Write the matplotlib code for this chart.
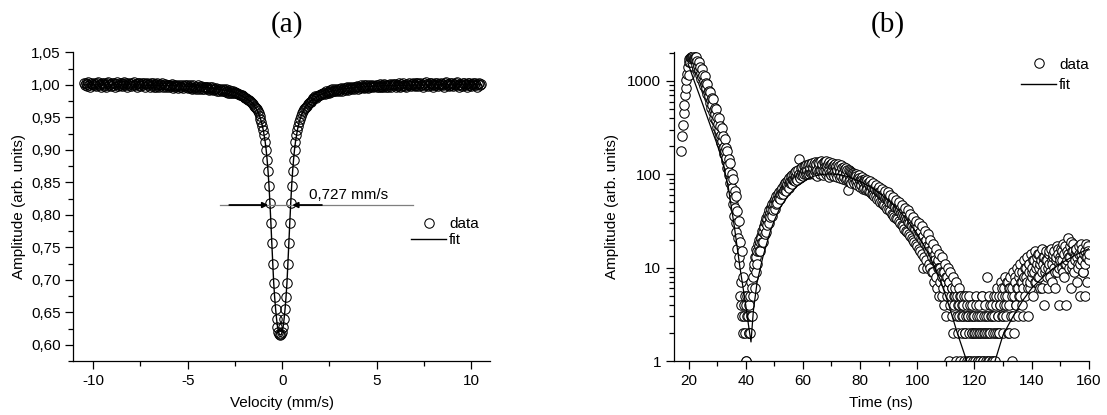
import numpy as np
import matplotlib
matplotlib.use("Agg")
import matplotlib.pyplot as plt
from matplotlib.lines import Line2D
from matplotlib.ticker import MultipleLocator, FuncFormatter, FixedLocator, LogLocator, NullFormatter

# ---------------- data: panel (a) Mossbauer spectrum ----------------
# amplitude in units of 0.001, channels evenly spaced from -10.5 to 10.5 mm/s
amp_milli = [
    1002,999,1003,998,1001,1004,1000,997,1002,1001,
    999,1003,1000,998,1002,1004,999,1001,997,1003,
    1001,998,1003,1000,997,1002,1004,999,1001,998,
    1003,1000,1002,997,1001,1004,998,1000,1003,999,
    1002,998,1001,1004,999,1002,997,1000,1003,1001,
    998,1002,1000,1004,999,1001,997,1003,1000,1002,
    998,1001,1003,999,1002,997,1001,1003,999,
    1001,997,1002,999,1002,997,1000,1001,997,1002,999,996,1001,999,1002,997,999,1001,997,1000,
    1000,996,999,998,1001,995,998,1000,996,999,998,995,1000,997,996,1000,995,998,1000,996,
    999,995,997,999,995,997,994,999,995,997,994,996,999,994,996,998,994,996,993,997,
    996,997,993,995,992,996,994,997,992,994,
    994,995,991,993,990,994,992,990,994,991,
    992,989,993,990,988,992,988,990,987,990,
    988,989,987,988,986,986,
    985,984,984,983,
    982,981,980,979,
    978,977,976,975,973,972,
    970,968,966,964,962,959,956,952,948,943,937,930,922,912,900,885,867,845,818,788,
    756,725,695,673,655,640,628,620,616,
    615,
    616,620,628,640,655,673,695,725,756,788,818,845,867,885,900,912,922,930,937,943,
    948,952,956,959,962,964,966,968,970,
    972,974,974,977,976,979,
    979,982,980,983,
    983,985,984,986,
    986,988,987,986,990,988,
    989,991,988,992,989,993,990,991,993,990,
    992,994,990,993,995,991,993,995,992,995,
    994,996,992,995,997,993,995,997,993,996,
    996,998,994,997,995,999,996,997,999,995,997,1000,996,995,999,997,998,1000,996,998,
    998,1000,996,999,997,1001,998,996,1000,997,1001,999,997,1000,996,999,1001,997,999,1001,
    999,1001,997,1000,998,1002,999,997,1001,998,1002,1000,998,997,1001,999,1002,1000,998,1001,
    1002,999,998,1003,1000,1002,998,1001,1003,1000,
    999,997,1002,1000,1004,1001,998,1000,1002,1003,
    999,1001,997,1000,1003,999,1002,998,1001,1000,
    1003,1001,999,997,1002,1004,1000,1001,998,1000,
    1002,999,1003,998,1001,1000,1002,1004,999,997,
    1001,1000,998,1003,1002,999,1001,997,1000,1003,
    1002,999,998,1001,1003,1000,1002,999,997,1001,
    1002,1000,1001,
]
vel_start, vel_stop = -10.5, 10.5

fit_vel = [-10.5, -8.1, -6.1, -5.1, -4.1, -3.1, -2.6, -2.1, -1.9, -1.7, -1.5, -1.3, -1.2, -1.1,
           -1.0, -0.9, -0.85, -0.8, -0.75, -0.7, -0.65, -0.6, -0.55, -0.5, -0.45, -0.4, -0.35,
           -0.3, -0.25, -0.2, -0.15, -0.1, -0.05, 0.0, 0.05, 0.1, 0.15, 0.2, 0.25, 0.3, 0.35,
           0.4, 0.45, 0.5, 0.55, 0.6, 0.65, 0.7, 0.8, 0.9, 1.0, 1.1, 1.3, 1.5, 1.7, 1.9, 2.4,
           2.9, 3.9, 4.9, 5.9, 7.9, 10.5]
fit_amp = [1.000, 1.000, 0.999, 0.998, 0.996, 0.992, 0.989, 0.983, 0.979, 0.975, 0.969, 0.959,
           0.952, 0.943, 0.930, 0.912, 0.900, 0.885, 0.867, 0.845, 0.818, 0.788, 0.756, 0.725,
           0.695, 0.673, 0.655, 0.640, 0.628, 0.620, 0.616, 0.615, 0.616, 0.620, 0.628, 0.640,
           0.655, 0.673, 0.695, 0.725, 0.756, 0.788, 0.818, 0.845, 0.867, 0.885, 0.900, 0.912,
           0.930, 0.943, 0.952, 0.959, 0.969, 0.975, 0.979, 0.983, 0.989, 0.992, 0.996, 0.998,
           0.999, 1.000, 1.000]

fwhm_label = "0,727 mm/s"

# ---------------- data: panel (b) time spectrum ----------------
# run 1: counts, channels evenly spaced (0.25 ns) from 17.5 to 160 ns
counts = [
    180,260,340,450,560,700,850,1020,1200,1400,1580,1700,1760,1800,1780,1820,1750,1790,1700,1680,
    1620,1480,1390,1450,1280,1300,1150,1220,1060,1100,960,1010,880,920,800,840,720,760,650,690,
    580,620,510,555,470,490,400,445,370,380,320,345,285,300,250,262,215,228,190,198,
    165,180,140,150,118,125,98,106,80,88,62,72,48,56,36,44,24,30,16,21,
    11,13,5,7,4,3,2,4,3,2,1,1,5,3,2,4,5,3,7,6,
    8,10,11,13,13,16,15,18,17,20,19,22,21,25,24,28,27,31,30,34,
    33,38,36,41,39,45,42,48,45,52,48,55,52,58,54,62,57,65,60,68,
    62,72,64,76,68,80,70,82,75,88,78,92,80,95,83,98,86,102,88,105,
    90,108,92,112,95,145,96,118,98,120,100,124,101,122,103,126,104,125,105,128,
    106,130,104,132,108,128,100,134,110,130,96,135,108,132,102,138,110,130,98,136,
    108,134,100,140,106,130,94,136,104,128,98,132,102,126,96,130,100,124,94,128,
    98,122,92,126,96,118,90,120,94,114,88,116,90,68,84,112,86,106,80,104,
    84,100,80,98,82,96,76,94,78,92,74,90,76,88,70,86,72,84,68,82,
    70,80,66,78,64,76,62,74,62,72,58,70,58,68,55,66,54,64,51,62,
    50,60,48,58,47,56,45,55,43,53,42,51,40,50,38,48,37,47,35,45,
    34,44,33,42,32,40,30,39,29,37,28,36,26,34,25,33,24,31,23,30,
    22,29,21,28,20,27,19,26,18,24,17,23,16,22,15,21,14,20,10,19,
    13,18,12,17,10,16,11,15,10,14,9,13,9,12,7,12,8,11,6,10,
    5,10,7,9,5,8,6,9,4,7,3,8,5,6,1,7,4,5,3,6,
    2,5,4,6,1,3,5,2,4,3,1,5,2,4,3,1,5,2,3,4,
    1,3,2,5,1,3,2,4,1,2,3,1,5,2,3,1,2,4,1,3,
    2,5,1,3,2,4,1,2,8,3,1,5,2,3,4,1,2,5,3,1,
    4,2,6,3,5,2,4,7,3,5,2,6,4,8,3,5,7,2,6,4,
    8,3,1,6,9,5,2,7,4,10,6,3,8,5,11,7,4,9,6,12,
    8,5,10,7,13,3,9,11,6,14,8,10,5,12,9,15,7,11,13,8,
    10,14,6,12,9,16,11,4,13,10,15,8,12,6,14,11,9,16,12,7,
    13,10,15,6,12,17,9,14,11,4,13,16,10,12,18,8,14,11,4,15,
    12,21,10,17,13,6,15,11,18,9,14,12,16,7,13,10,17,11,5,14,
    12,16,9,14,5,11,18,13,7,15,12,
]
time_start, time_stop = 17.5, 160.0

# run 2: counts, channels evenly spaced (0.5 ns) from 20.1 to 160.1 ns
counts2 = [
    1150,1580,1720,1850,1760,1800,1620,1580,1400,1350,
    1150,1120,960,930,790,770,650,640,520,500,
    410,400,330,310,255,240,190,180,145,132,
    100,90,66,58,40,32,19,15,8,5,
    4,3,2,2,3,5,6,9,11,15,
    15,19,19,23,24,29,30,35,36,41,
    42,48,49,56,55,64,61,70,67,78,
    72,84,79,90,84,95,88,100,92,104,
    96,108,100,112,102,116,106,118,108,120,
    110,122,112,125,110,126,112,124,110,126,
    112,122,108,120,110,118,106,116,104,114,
    100,112,98,108,95,104,92,100,88,98,
    86,94,82,90,78,86,76,84,72,80,
    70,76,66,73,64,70,60,67,57,64,
    54,60,51,57,48,53,45,50,42,47,
    39,44,36,41,34,38,31,35,29,32,
    27,30,24,28,22,25,20,23,17,20,
    16,18,14,16,12,14,10,13,9,11,
    8,10,7,9,6,8,5,7,4,6,
    5,3,4,2,5,3,1,4,2,3,
    2,4,1,3,2,5,1,2,3,1,
    2,4,3,1,2,5,3,2,4,6,
    3,5,4,7,2,6,5,3,8,4,
    6,9,5,7,3,10,8,6,11,7,
    9,12,7,10,14,8,11,6,13,9,
    12,10,15,8,11,14,9,13,16,10,
    12,15,9,17,11,14,13,19,10,15,
    13,16,11,14,18,12,9,15,13,17,
    14,
]
time2_start, time2_stop = 20.1, 160.1

fit_time = [19.8, 22, 25, 28, 30, 32, 34, 36, 38, 40, 41, 41.85, 42.7, 44, 46, 48.5, 50, 52,
            55, 58, 61, 64, 67, 70, 73, 76, 80, 84, 88, 92, 96, 100, 104, 108, 111, 114, 117.3,
            120, 122, 124.5, 127.2, 130, 133.5, 137, 140, 145, 150, 155, 160]
fit_counts = [1550, 1000, 560, 310, 210, 135, 70, 28, 10, 4, 2.4, 1.6, 3.5, 7, 13, 24, 32, 44,
              60, 75, 87, 96, 100, 101, 99, 94, 84, 72, 59, 46, 34, 23, 14, 7.5, 4, 2, 1.0,
              0.45, 0.35, 0.5, 1.0, 1.9, 3.0, 4.5, 6, 8.5, 11, 13.5, 16]

# ---------------- figure ----------------
plt.rcParams['font.family'] = ['Liberation Sans', 'DejaVu Sans']
plt.rcParams['axes.unicode_minus'] = False

W, H = 1107, 415
fig = plt.figure(figsize=(W / 100, H / 100), dpi=100)

def px_axes(x0, x1, ytop, ybot):
    return fig.add_axes([x0 / W, 1 - ybot / H, (x1 - x0) / W, (ybot - ytop) / H])

axA = px_axes(73.3, 490.2, 52.3, 361)
axB = px_axes(673.5, 1088.8, 52.3, 361)

FS = 11
mk = dict(marker='o', linestyle='none', markersize=6.8, markerfacecolor='white',
          markeredgecolor='black', markeredgewidth=0.75)
mk_open = dict(mk, markerfacecolor='none')

for ax in (axA, axB):
    for s in ('top', 'right'):
        ax.spines[s].set_visible(False)
    for s in ('left', 'bottom'):
        ax.spines[s].set_linewidth(0.9)
    ax.tick_params(which='major', direction='out', length=6, width=0.9, labelsize=FS, pad=3)
    ax.tick_params(which='minor', direction='out', length=3.5, width=0.9)

# ----- panel (a)
vel = np.linspace(vel_start, vel_stop, len(amp_milli))
amp = np.array(amp_milli) / 1000.0
axA.plot(vel, amp, **mk_open, zorder=2)
axA.plot(fit_vel, fit_amp, color='black', lw=1.0, zorder=3)
axA.set_xlim(-11.05, 11.0)
axA.set_ylim(0.575, 1.05)
axA.xaxis.set_major_locator(FixedLocator([-10, -5, 0, 5, 10]))
axA.xaxis.set_minor_locator(MultipleLocator(2.5))
axA.yaxis.set_major_locator(MultipleLocator(0.05))
axA.yaxis.set_minor_locator(MultipleLocator(0.025))
axA.yaxis.set_major_formatter(FuncFormatter(lambda v, p: f"{v:.2f}".replace('.', ',')))
axA.set_xlabel("Velocity (mm/s)", fontsize=FS, labelpad=6)
axA.set_ylabel("Amplitude (arb. units)", fontsize=FS, labelpad=4)

# FWHM annotation
yl = 0.815
axA.plot([-3.3, 6.9], [yl, yl], color='#7f7f7f', lw=0.9, zorder=4)
axA.annotate('', xy=(-0.74, yl), xytext=(-2.8, yl),
             arrowprops=dict(arrowstyle='-|>', color='black', lw=1.3,
                             mutation_scale=8, shrinkA=0, shrinkB=0), zorder=5)
axA.annotate('', xy=(0.53, yl), xytext=(2.1, yl),
             arrowprops=dict(arrowstyle='-|>', color='black', lw=1.3,
                             mutation_scale=8, shrinkA=0, shrinkB=0), zorder=5)
axA.text(1.4, yl + 0.005, fwhm_label, fontsize=FS, ha='left', va='bottom')

hA = [Line2D([], [], **mk), Line2D([], [], color='black', lw=1.0)]
axA.legend(hA, ['data', 'fit'], loc='upper left', bbox_to_anchor=(0.810, 0.465),
           frameon=False, fontsize=FS, handlelength=2.3, handletextpad=0.2,
           labelspacing=0.1, borderpad=0, borderaxespad=0)

# ----- panel (b): both runs drawn in time order
time = np.linspace(time_start, time_stop, len(counts))
time2 = np.linspace(time2_start, time2_stop, len(counts2))
t_all = np.concatenate([time, time2])
c_all = np.concatenate([counts, counts2])
order = np.argsort(t_all, kind='stable')
axB.plot(t_all[order], c_all[order], **mk, zorder=2)
axB.plot(fit_time, fit_counts, color='black', lw=0.9, zorder=3)
axB.set_yscale('log')
axB.set_xlim(14.75, 160)
axB.set_ylim(1, 2030)
axB.xaxis.set_major_locator(MultipleLocator(20))
axB.xaxis.set_minor_locator(MultipleLocator(10))
axB.yaxis.set_major_locator(FixedLocator([1, 10, 100, 1000]))
axB.yaxis.set_major_formatter(FuncFormatter(lambda v, p: f"{v:.0f}"))
axB.yaxis.set_minor_locator(LogLocator(base=10, subs=np.arange(2, 10)))
axB.yaxis.set_minor_formatter(NullFormatter())
axB.set_xlabel("Time (ns)", fontsize=FS, labelpad=6)
axB.set_ylabel("Amplitude (arb. units)", fontsize=FS, labelpad=6)

hB = [Line2D([], [], **mk), Line2D([], [], color='black', lw=1.0)]
axB.legend(hB, ['data', 'fit'], loc='upper left', bbox_to_anchor=(0.8368, 0.983),
           frameon=False, fontsize=FS, handlelength=2.3, handletextpad=0.2,
           labelspacing=0.45, borderpad=0, borderaxespad=0)

# panel titles
fig.text(287.3 / W, 1 - 25 / H, "(a)", fontsize=21, ha='center', va='center',
         family=['Liberation Serif', 'DejaVu Serif'])
fig.text(888 / W, 1 - 25 / H, "(b)", fontsize=21, ha='center', va='center',
         family=['Liberation Serif', 'DejaVu Serif'])

fig.savefig("out.png", dpi=100)
